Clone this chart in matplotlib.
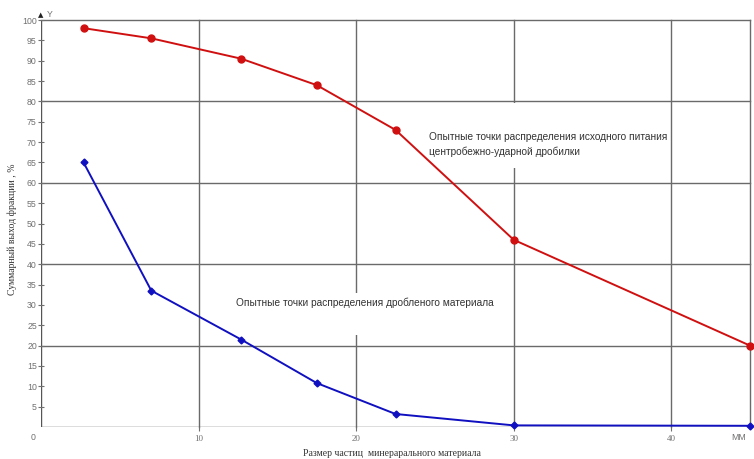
import matplotlib
matplotlib.use("Agg")
import matplotlib.pyplot as plt
from matplotlib.patches import Rectangle

# particle size, mm
size_mm = [2.7, 7.0, 12.7, 17.5, 22.5, 30.0, 45.0]
# cumulative yield, %
feed_yield = [98.0, 95.5, 90.5, 84.0, 73.0, 46.0, 20.0]
crushed_yield = [65.0, 33.5, 21.5, 10.8, 3.2, 0.4, 0.3]

x_ticks = [10, 20, 30, 40]
y_ticks = list(range(5, 101, 5))

GRID = "#6a6a6a"
TICK = "#707070"

fig = plt.figure(figsize=(7.54, 4.59), dpi=100)
ax = fig.add_axes([0.0544, 0.0697, 0.9403, 0.8867])
ax.set_xlim(0, 45)
ax.set_ylim(0, 100)

for gx in x_ticks + [45]:
    ax.axvline(gx, color=GRID, lw=1.0, zorder=1, clip_on=False)
for gy in [20, 40, 60, 80, 100]:
    ax.axhline(gy, color=GRID, lw=1.0, zorder=1, clip_on=False)

for s in ax.spines.values():
    s.set_visible(False)
ax.axvline(0, color="#555555", lw=1.0, zorder=1)
ax.axhline(0, color="#555555", lw=1.0, zorder=1)

ax.plot(size_mm, feed_yield, color="#d01010", lw=1.4, marker="o", ms=5,
        zorder=4, clip_on=False)
ax.plot(size_mm, crushed_yield, color="#1010c0", lw=1.4, marker="D", ms=3.5,
        zorder=4, clip_on=False)

ax.set_xticks(x_ticks)
ax.set_xticklabels([str(t) for t in x_ticks], family="Liberation Serif",
                   fontsize=6.5, color=TICK)
ax.set_yticks(y_ticks)
ax.set_yticklabels([str(t) for t in y_ticks], family="Liberation Sans",
                   fontsize=6.3, color=TICK)
ax.tick_params(axis="y", direction="inout", length=4, color=TICK, pad=1)
ax.tick_params(axis="x", direction="out", length=3, color=TICK, pad=3)

ax.text(-0.5, -1.5, "0", fontsize=6.3, color=TICK, ha="center", va="top",
        family="Liberation Sans")
ax.text(44.3, -1.5, "MM", fontsize=6.3, color=TICK, ha="center", va="top",
        family="Liberation Sans")
ax.text(0, 100.4, "▲", fontsize=5, color="#222222", ha="center",
        va="bottom", family="DejaVu Sans", clip_on=False)
ax.text(0.35, 100.2, "Y", fontsize=6.3, color=TICK, ha="left", va="bottom",
        family="Liberation Sans", clip_on=False)

# white label boxes hiding the grid behind the captions
ax.add_patch(Rectangle((24.0, 63.6), 15.7, 16.0, fc="white", ec="none",
                       zorder=2))
ax.add_patch(Rectangle((12.0, 22.6), 17.5, 10.3, fc="white", ec="none",
                       zorder=2))

ax.text(24.6, 69.4,
        "Опытные точки распределения исходного питания\n"
        "центробежно-ударной дробилки",
        fontsize=7.3, color="#333333", family="Liberation Sans",
        ha="left", va="center", linespacing=1.5, zorder=3)
ax.text(12.4, 30.5,
        "Опытные точки распределения дробленого материала",
        fontsize=7.3, color="#333333", family="Liberation Sans",
        ha="left", va="center", zorder=3)

fig.text(0.52, 0.003, "Размер частиц  минерарального материала",
         fontsize=7, family="Liberation Serif", color="#333333",
         ha="center", va="bottom")
fig.text(0.016, 0.5, "Суммарный выход фракции , %", rotation=90,
         fontsize=7, family="Liberation Serif", color="#333333",
         ha="center", va="center")

fig.savefig("out.png", dpi=100)
